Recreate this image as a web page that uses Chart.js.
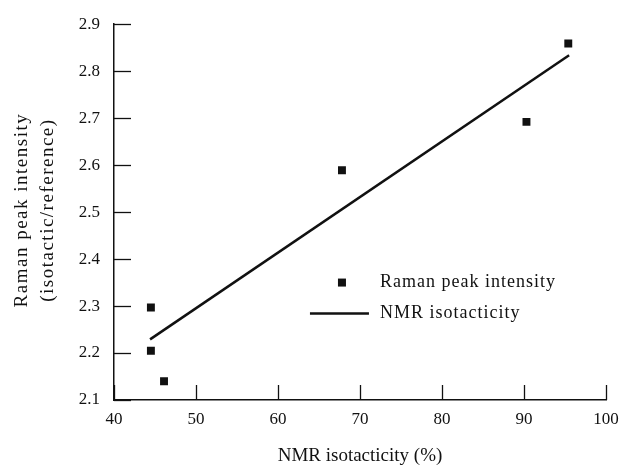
<!DOCTYPE html>
<html>
<head>
<meta charset="utf-8">
<script src="https://cdn.jsdelivr.net/npm/chart.js@4.4.0/dist/chart.umd.min.js"></script>
<style>
  body { margin: 0; background: #fff; }
  canvas { display: block; }
</style>
</head>
<body>
<canvas id="chart" width="642" height="467"></canvas>
<script>

// data
const isotacticity = [44.5, 44.5, 46.1, 67.8, 90.3, 95.4];
const ramanIntensity = [2.297, 2.205, 2.14, 2.589, 2.692, 2.859];

// straight fit line, just the two end points
const fitX = [44.4, 95.5];
const fitY = [2.229, 2.834];

const xTickLabels = ["40", "50", "60", "70", "80", "90", "100"];
const yTickLabels = ["2.1", "2.2", "2.3", "2.4", "2.5", "2.6", "2.7", "2.8", "2.9"];

const xTitle = "NMR isotacticity (%)";
const yTitle = ["Raman peak intensity", "(isotactic/reference)"];
const legendNames = ["Raman peak intensity", "NMR isotacticity"];

const serif = "'Liberation Serif', 'DejaVu Serif', serif";
const ink = "#111";

function points(xs, ys) {
  return xs.map(function(x, i) { return { x: x, y: ys[i] }; });
}

// inward tick marks, y title and the legend inside the plot
const extras = {
  id: "extras",
  afterDraw: function(chart) {
    const ctx = chart.ctx;
    const xs = chart.scales.x;
    const ys = chart.scales.y;
    const area = chart.chartArea;

    ctx.save();
    ctx.strokeStyle = ink;
    ctx.lineWidth = 1.3;
    xs.ticks.forEach(function(t) {
      const px = Math.round(xs.getPixelForValue(t.value)) + 0.5;
      ctx.beginPath();
      ctx.moveTo(px, area.bottom);
      ctx.lineTo(px, area.bottom - 15);
      ctx.stroke();
    });
    ys.ticks.forEach(function(t) {
      const py = Math.round(ys.getPixelForValue(t.value)) + 0.5;
      ctx.beginPath();
      ctx.moveTo(area.left, py);
      ctx.lineTo(area.left + 17, py);
      ctx.stroke();
    });

    // y axis title, two lines, rotated
    ctx.fillStyle = ink;
    ctx.font = "19px " + serif;
    ctx.letterSpacing = "1.5px";
    ctx.textAlign = "center";
    ctx.textBaseline = "middle";
    ctx.translate(0, (area.top + area.bottom) / 2 - 2);
    ctx.rotate(-Math.PI / 2);
    ctx.fillText(yTitle[0], 0, 22);
    ctx.fillText(yTitle[1], 0, 48);
    ctx.restore();

    // legend
    ctx.save();
    const lx = xs.getPixelForValue(67.8);
    const ly1 = ys.getPixelForValue(2.35);
    const ly2 = ly1 + 31;
    ctx.fillStyle = ink;
    ctx.fillRect(lx - 4, ly1 - 4, 8, 8);
    ctx.strokeStyle = ink;
    ctx.lineWidth = 2.5;
    ctx.beginPath();
    ctx.moveTo(lx - 32, ly2);
    ctx.lineTo(lx + 27, ly2);
    ctx.stroke();
    ctx.font = "18px " + serif;
    ctx.letterSpacing = "1px";
    ctx.textAlign = "left";
    ctx.textBaseline = "middle";
    ctx.fillText(legendNames[0], lx + 38, ly1);
    ctx.fillText(legendNames[1], lx + 38, ly2);
    ctx.restore();
  }
};

new Chart(document.getElementById("chart"), {
  type: "scatter",
  data: {
    datasets: [{
      label: legendNames[0],
      data: points(isotacticity, ramanIntensity),
      pointStyle: "rect",
      pointRadius: 5.6,
      pointHoverRadius: 5.6,
      backgroundColor: ink,
      borderColor: ink,
      borderWidth: 0
    }, {
      label: legendNames[1],
      data: points(fitX, fitY),
      showLine: true,
      pointRadius: 0,
      borderColor: ink,
      borderWidth: 2.5
    }]
  },
  plugins: [extras],
  options: {
    responsive: false,
    animation: false,
    layout: { padding: { left: 0, right: 36, top: 22, bottom: 0 } },
    plugins: {
      legend: { display: false },
      tooltip: { enabled: false }
    },
    scales: {
      x: {
        type: "linear",
        min: 40,
        max: 100,
        ticks: {
          stepSize: 10,
          padding: 9,
          color: ink,
          font: { family: serif, size: 17 },
          callback: function(v, i) { return xTickLabels[i]; }
        },
        grid: { drawOnChartArea: false, drawTicks: false },
        border: { display: true, color: ink, width: 1.5 },
        title: {
          display: true,
          text: xTitle,
          color: ink,
          font: { family: serif, size: 19 },
          padding: { top: 11, bottom: 0 }
        },
        afterFit: function(s) { s.height = 67; }
      },
      y: {
        type: "linear",
        min: 2.1,
        max: 2.9,
        ticks: {
          stepSize: 0.1,
          padding: 14,
          color: ink,
          font: { family: serif, size: 17 },
          callback: function(v, i) { return yTickLabels[i]; }
        },
        grid: { drawOnChartArea: false, drawTicks: false },
        border: { display: true, color: ink, width: 1.5 },
        afterFit: function(s) { s.width = 114; }
      }
    }
  }
});
</script>
</body>
</html>
